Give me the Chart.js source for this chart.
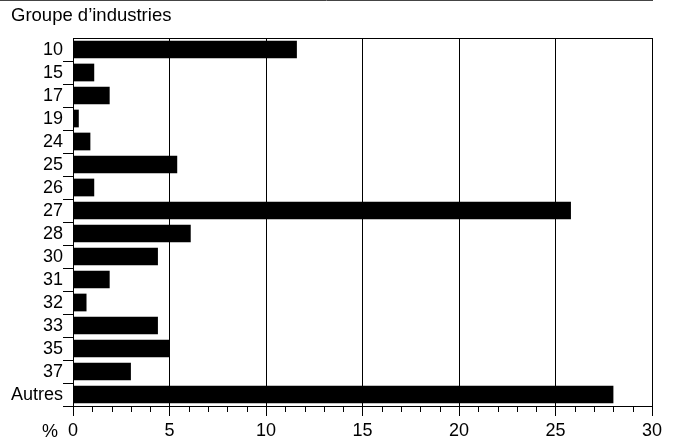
<!DOCTYPE html>
<html>
<head>
<meta charset="utf-8">
<script src="https://cdn.jsdelivr.net/npm/chart.js@4"></script>
<style>
  html, body { margin: 0; padding: 0; background: #fff; }
  canvas { display: block; }
</style>
</head>
<body>
<canvas id="industryChart" width="680" height="445"></canvas>
<script>
// data
const groups = ['10', '15', '17', '19', '24', '25', '26', '27', '28', '30', '31', '32', '33', '35', '37', 'Autres'];
const shares = [11.6, 1.1, 1.9, 0.3, 0.9, 5.4, 1.1, 25.8, 6.1, 4.4, 1.9, 0.7, 4.4, 5.0, 3.0, 28.0];
const xTicks = [0, 5, 10, 15, 20, 25, 30];
const minorStep = 1;
const titleText = 'Groupe d\u2019industries';
const unitText = '%';

const FONT = 'Liberation Sans, Arial, Helvetica, sans-serif';
const FONT_SIZE = 18;

// frame, title, top rule, unit label and minor ticks
const decorations = {
    id: 'decorations',
    afterDraw(chart) {
        const ctx = chart.ctx;
        const area = chart.chartArea;
        const xScale = chart.scales.x;
        ctx.save();
        ctx.strokeStyle = '#000';
        ctx.lineWidth = 1;

        // box round the plot
        ctx.strokeRect(area.left + 0.5, area.top + 0.5, area.right - area.left, area.bottom - area.top);

        // minor ticks below the axis
        ctx.beginPath();
        for (let v = xScale.min; v <= xScale.max; v += minorStep) {
            if (xTicks.includes(v)) continue;
            const x = Math.round(xScale.getPixelForValue(v)) + 0.5;
            ctx.moveTo(x, area.bottom);
            ctx.lineTo(x, area.bottom + 6);
        }
        ctx.stroke();

        // rule across the top
        ctx.strokeStyle = '#444';
        ctx.beginPath();
        ctx.moveTo(0, 0.5);
        ctx.lineTo(area.right + 1, 0.5);
        ctx.stroke();

        ctx.fillStyle = '#000';
        ctx.textAlign = 'left';
        ctx.textBaseline = 'alphabetic';
        ctx.font = '18.5px ' + FONT;
        ctx.fillText(titleText, 11, 21);
        ctx.font = FONT_SIZE + 'px ' + FONT;
        ctx.fillText(unitText, 42, 437);
        ctx.restore();
    }
};

new Chart(document.getElementById('industryChart'), {
    type: 'bar',
    data: {
        labels: groups,
        datasets: [{
            data: shares,
            backgroundColor: '#000',
            borderWidth: 0,
            barPercentage: 0.77,
            categoryPercentage: 1.0
        }]
    },
    options: {
        indexAxis: 'y',
        responsive: false,
        animation: false,
        devicePixelRatio: 1,
        layout: { padding: { top: 38, right: 28, left: 0, bottom: 0 } },
        plugins: {
            legend: { display: false },
            tooltip: { enabled: false }
        },
        scales: {
            x: {
                min: 0,
                max: 30,
                afterBuildTicks: scale => { scale.ticks = xTicks.map(v => ({ value: v })); },
                afterFit: scale => { scale.height = 39; },
                grid: { color: '#000', lineWidth: 1, tickLength: 10 },
                border: { display: true, color: '#000', width: 1 },
                ticks: {
                    color: '#000',
                    font: { family: FONT, size: FONT_SIZE },
                    padding: 4,
                    maxRotation: 0,
                    autoSkip: false
                }
            },
            y: {
                afterFit: scale => { scale.width = 73; },
                grid: {
                    drawOnChartArea: false,
                    tickLength: 10,
                    color: ctx => ctx.index === 0 ? 'rgba(0,0,0,0)' : '#000'
                },
                border: { display: true, color: '#000', width: 1 },
                ticks: {
                    color: '#000',
                    font: { family: FONT, size: FONT_SIZE },
                    padding: 0,
                    labelOffset: 1,
                    autoSkip: false
                }
            }
        }
    },
    plugins: [decorations]
});
</script>
</body>
</html>
